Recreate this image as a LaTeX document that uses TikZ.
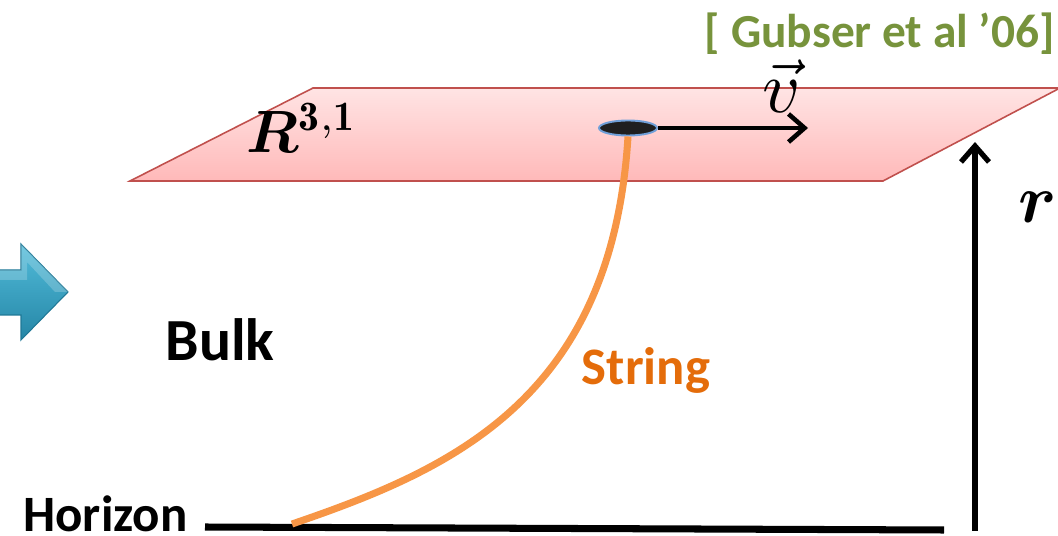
\documentclass[tikz,border=0pt]{standalone}
\usepackage{bm}
\usepackage{fontspec}
\newfontfamily\calibri{Carlito}
\usetikzlibrary{arrows.meta,shapes.geometric}
\definecolor{planeedge}{HTML}{C0504D}
\definecolor{planetop}{HTML}{FFE4E4}
\definecolor{planebot}{HTML}{FFB9B9}
\definecolor{stringcol}{HTML}{F79646}
\definecolor{stringtxt}{HTML}{E46C0A}
\definecolor{refgreen}{HTML}{77933C}
\definecolor{bluetop}{HTML}{52BCDA}
\definecolor{bluebot}{HTML}{2586A6}
\definecolor{blueedge}{HTML}{1F7896}
\definecolor{ringcol}{HTML}{6F9FD8}
\tikzset{
  lbl/.style={inner sep=0pt, font=\calibri\bfseries},
  barb/.style={-{Straight Barb[length=3.2mm,width=5.6mm]}},
}
\begin{document}
\begin{tikzpicture}[x=0.02cm,y=-0.02cm]
\useasboundingbox (0,0) rectangle (1058,536);

% boundary plane
\shade[top color=planetop, bottom color=planebot, draw=planeedge, line width=0.9pt]
  (130,181) -- (313,88) -- (1060,88) -- (883,181) -- cycle;

% blue arrow on the left
\shade[top color=bluetop, bottom color=bluebot, draw=blueedge, line width=0.6pt]
  (-2,270) -- (21,270) -- (21,244) -- (68,292) -- (21,340) -- (21,315) -- (-2,315) -- cycle;
\fill[white, opacity=0.2] (-2,270) -- (21,270) -- (21,244) -- (68,292) -- (55,292) -- (27,262) -- (27,280) -- (-2,280) -- cycle;

% horizon and radial direction
\node[lbl, font=\calibri\bfseries\fontsize{29}{34}\selectfont, anchor=east] (hor) at (188,514) {Horizon};
\coordinate (hL) at (205,527);
\coordinate (hR) at (944,530);
\draw[line width=4pt] (hL) -- (hR);

\coordinate (rB) at (975,531);
\coordinate (rT) at (975,142);
\draw[barb, line width=3pt] (rB) -- (rT);
\node[inner sep=0pt] (r) at (1038,207) {\scalebox{3.9}{$\bm{r}$}};

% string endpoint on the boundary
\node[ellipse, fill=black!88, draw=ringcol, line width=1.1pt, minimum width=1.16cm, minimum height=0.3cm, inner sep=0pt] (p) at (628,128) {};
\coordinate (foot) at (292,524);
\draw[stringcol, line width=4pt] (p.south) .. controls (612,400) and (450,470) .. (foot);

\coordinate (vtip) at (808,128);
\draw[barb, line width=2.6pt] (p.east) -- (vtip);
\node[inner sep=0pt] (v) at (782,86) {\scalebox{4.2}{$\vec{v}$}};

% labels
\node[inner sep=0pt] (R) at (302,128) {\scalebox{3.4}{$\bm{R}^{\mathbf{3,1}}$}};
\node[lbl, font=\calibri\bfseries\fontsize{34}{40}\selectfont] (bulk) at (220,340) {Bulk};
\node[lbl, text=stringtxt, font=\calibri\bfseries\fontsize{30}{36}\selectfont] (str) at (646,370) {String};
\node[lbl, text=refgreen, font=\calibri\bfseries\fontsize{27}{32}\selectfont, anchor=east] (ref) at (1055,34) {[ Gubser et al ’06]};
\end{tikzpicture}
\end{document}
